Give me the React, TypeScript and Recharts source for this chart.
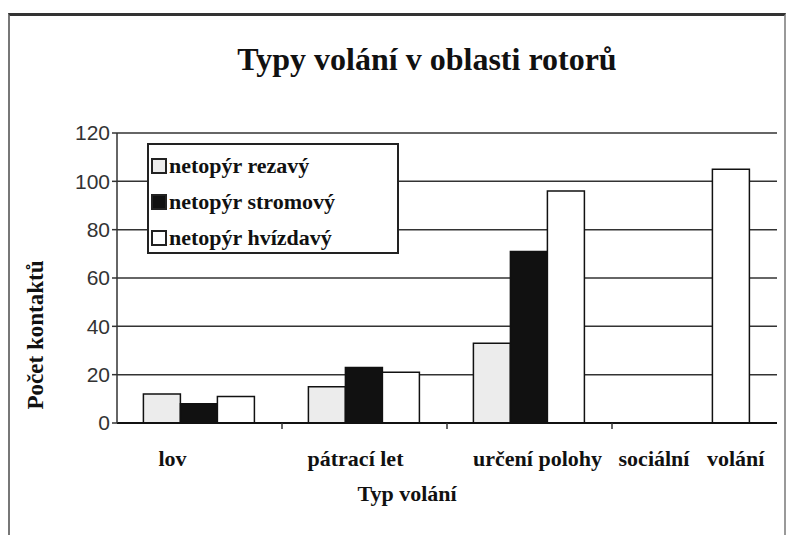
import { BarChart, Bar, XAxis, YAxis, CartesianGrid, Legend } from 'recharts';

const categories = ['lov', 'pátrací let', 'určení polohy', 'sociální volání'];
const rezavy = [12, 15, 33, 0];
const stromovy = [8, 23, 71, 0];
const hvizdavy = [11, 21, 96, 105];
const yTicks = [0, 20, 40, 60, 80, 100, 120];

const SERIES = [
  { key: 'rezavy', name: 'netopýr rezavý', fill: '#ececec' },
  { key: 'stromovy', name: 'netopýr stromový', fill: '#111111' },
  { key: 'hvizdavy', name: 'netopýr hvízdavý', fill: '#ffffff' },
];

const data = categories.map((name, i) => ({
  name,
  rezavy: rezavy[i],
  stromovy: stromovy[i],
  hvizdavy: hvizdavy[i],
}));

const SERIF = '"Liberation Serif", "Times New Roman", serif';
const SANS = '"Liberation Sans", Arial, sans-serif';

// the scanned labels are not quite centred under their groups
const LABEL_SHIFT = [-27, -9, 8, -3];

const renderTick = (props: any) => {
  const { x, y, payload, index, visibleTicksCount } = props;
  const spread = payload.value === 'sociální volání';
  const half = payload.offset || 0;
  const last = index === (visibleTicksCount ?? categories.length) - 1;
  return (
    <g>
      {/* tick mark sits between groups, not under them */}
      {half > 0 && !last && (
        <line x1={x + half} x2={x + half} y1={y - 8} y2={y - 2} stroke="#333" strokeWidth={1.5} />
      )}
      <text
        x={x + (LABEL_SHIFT[index] || 0)}
        y={y + 35}
        textAnchor="middle"
        fontFamily={SERIF}
        fontWeight="bold"
        fontSize={22}
        fill="#111"
        style={spread ? { wordSpacing: '12px' } : undefined}
      >
        {payload.value}
      </text>
    </g>
  );
};

const renderLegend = () => (
  <div
    style={{
      width: 252,
      height: 111,
      border: '2px solid #222',
      background: '#fff',
      boxSizing: 'border-box',
      padding: '3px 0 0 2px',
    }}
  >
    {SERIES.map((s) => (
      <div
        key={s.key}
        style={{
          display: 'flex',
          alignItems: 'center',
          height: 36,
          fontFamily: SERIF,
          fontWeight: 'bold',
          fontSize: 22,
          color: '#111',
        }}
      >
        <span
          style={{
            display: 'inline-block',
            width: 12,
            height: 12,
            background: s.fill,
            border: '2px solid #222',
            marginRight: 2,
          }}
        />
        {s.name}
      </div>
    ))}
  </div>
);

export default function App() {
  return (
    <div style={{ position: 'absolute', left: 0, top: 0, width: 790, height: 535, background: '#fff' }}>
      <div
        style={{
          position: 'absolute',
          left: 8,
          top: 13,
          width: 778,
          height: 530,
          borderTop: '3px solid #333',
          borderLeft: '2px solid #777',
          borderRight: '2px solid #999',
          boxSizing: 'border-box',
        }}
      />
      <div
        style={{
          position: 'absolute',
          left: 0,
          top: 41,
          width: 854,
          textAlign: 'center',
          fontFamily: SERIF,
          fontWeight: 'bold',
          fontSize: 32,
          color: '#111',
        }}
      >
        Typy volání v oblasti rotorů
      </div>
      <div style={{ position: 'absolute', left: 0, top: 0 }}>
        <BarChart
          width={790}
          height={535}
          data={data}
          margin={{ top: 133, right: 13, left: 0, bottom: 0 }}
          barCategoryGap="16%"
          barGap={0}
        >
          <CartesianGrid vertical={false} stroke="#333" strokeWidth={1.5} />
          <XAxis
            dataKey="name"
            height={112}
            axisLine={{ stroke: '#111', strokeWidth: 2 }}
            tickLine={false}
            tick={renderTick}
            interval={0}
            label={{
              value: 'Typ volání',
              position: 'insideTop',
              offset: 62,
              dx: -40,
              style: { fontFamily: SERIF, fontWeight: 'bold', fontSize: 22, fill: '#111' },
            }}
          />
          <YAxis
            width={117}
            domain={[0, 120]}
            ticks={yTicks}
            axisLine={{ stroke: '#333', strokeWidth: 1.5 }}
            tickLine={{ stroke: '#333', strokeWidth: 1.5 }}
            tickSize={5}
            tick={{ fontFamily: SANS, fontSize: 21, fill: '#333' }}
            label={{
              value: 'Počet kontaktů',
              angle: -90,
              position: 'insideLeft',
              offset: 35,
              dy: 57,
              style: { textAnchor: 'middle', fontFamily: SERIF, fontWeight: 'bold', fontSize: 23, fill: '#111' },
            }}
          />
          <YAxis
            yAxisId="right"
            orientation="right"
            width={0}
            domain={[0, 120]}
            tick={false}
            tickLine={false}
            axisLine={{ stroke: '#333', strokeWidth: 1.5 }}
          />
          <Legend
            content={renderLegend}
            layout="vertical"
            verticalAlign="middle"
            align="center"
            wrapperStyle={{ left: 147, top: 143, width: 252 }}
          />
          {SERIES.map((s) => (
            <Bar
              key={s.key}
              dataKey={s.key}
              name={s.name}
              fill={s.fill}
              stroke="#111"
              strokeWidth={1.5}
              isAnimationActive={false}
            />
          ))}
        </BarChart>
      </div>
    </div>
  );
}
